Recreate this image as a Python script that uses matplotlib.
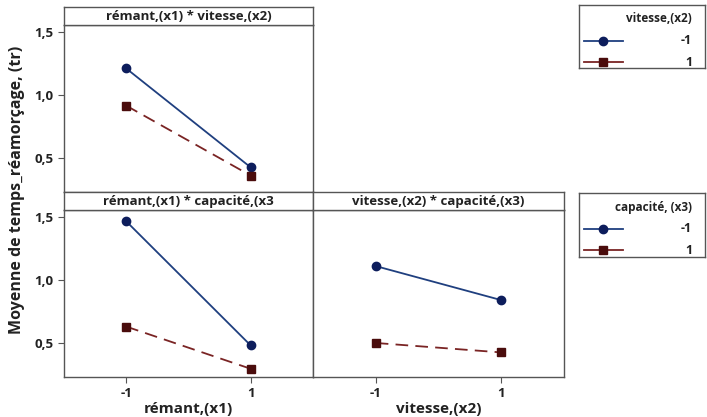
import matplotlib
matplotlib.use('Agg')
import matplotlib.pyplot as plt

plt.rcParams['font.family'] = ['Open Sans', 'DejaVu Sans']

# levels on the x axis
levels = [-1, 1]
level_labels = ['-1', '1']

# rémant (x1) * vitesse (x2)
x1x2_v_minus = [1.21, 0.425]
x1x2_v_plus = [0.915, 0.36]

# rémant (x1) * capacité (x3)
x1x3_c_minus = [1.465, 0.48]
x1x3_c_plus = [0.63, 0.295]

# vitesse (x2) * capacité (x3)
x2x3_c_minus = [1.11, 0.84]
x2x3_c_plus = [0.50, 0.425]

y_ticks = [0.5, 1.0, 1.5]
y_tick_labels = ['0,5', '1,0', '1,5']

BLUE = '#1f3f7f'
BLUE_M = '#0d1d5c'
RED = '#7a2424'
RED_M = '#4a0c0c'
FRAME = '#555555'
TXT = '#222222'

W, H = 707, 417
fig = plt.figure(figsize=(W / 100, H / 100), dpi=100)


def px_axes(x0, y0, x1, y1):
    return fig.add_axes([x0 / W, 1 - y1 / H, (x1 - x0) / W, (y1 - y0) / H])


def frame(ax):
    for s in ax.spines.values():
        s.set_color(FRAME)
        s.set_linewidth(1.0)


def panel(x0, x1, y_top, y_strip, y_bot, title, a, b, show_y, show_x):
    ax = px_axes(x0, y_strip, x1, y_bot)
    ax.plot(levels, a, '-', color=BLUE, lw=1.3, marker='o', ms=6,
            mfc=BLUE_M, mec=BLUE_M)
    ax.plot(levels, b, '--', color=RED, lw=1.3, dashes=(7, 4), marker='s', ms=5.5,
            mfc=RED_M, mec=RED_M)
    ax.set_xlim(-2, 2)
    ax.set_ylim(0.23, 1.555)
    frame(ax)
    ax.set_yticks(y_ticks)
    ax.set_xticks(levels)
    if show_y:
        ax.set_yticklabels(y_tick_labels, fontsize=9.5, fontweight='bold')
    else:
        ax.tick_params(axis='y', left=False, labelleft=False)
    if show_x:
        ax.set_xticklabels(level_labels, fontsize=9.5, fontweight='bold')
    else:
        ax.tick_params(axis='x', bottom=False, labelbottom=False)
    ax.tick_params(colors=FRAME, labelcolor=TXT, length=4)

    st = px_axes(x0, y_top, x1, y_strip)
    st.set_xticks([])
    st.set_yticks([])
    frame(st)
    st.text(0.5, 0.45, title, ha='center', va='center', fontsize=9.5,
            fontweight='bold', color=TXT, transform=st.transAxes)
    return ax


panel(64, 313, 7, 25, 192, 'rémant,(x1) * vitesse,(x2)',
      x1x2_v_minus, x1x2_v_plus, True, False)
ax_bl = panel(64, 313, 192, 210, 377, 'rémant,(x1) * capacité,(x3',
              x1x3_c_minus, x1x3_c_plus, True, True)
ax_br = panel(313, 564, 192, 210, 377, 'vitesse,(x2) * capacité,(x3)',
              x2x3_c_minus, x2x3_c_plus, False, True)

ax_bl.set_xlabel('rémant,(x1)', fontsize=11, fontweight='bold', labelpad=1, color=TXT)
ax_br.set_xlabel('vitesse,(x2)', fontsize=11, fontweight='bold', labelpad=1, color=TXT)

fig.text(17 / W, 1 - 190 / H, 'Moyenne de temps_réamorçage, (tr)', rotation=90,
         ha='center', va='center', fontsize=11.5, fontweight='bold', color=TXT)


def legend_box(y0, y1, title):
    lg = px_axes(579, y0, 705, y1)
    lg.set_xlim(0, 126)
    lg.set_ylim(y1 - y0, 0)
    lg.set_xticks([])
    lg.set_yticks([])
    frame(lg)
    lg.text(113, 14, title, ha='right', va='center', fontsize=8.5,
            fontweight='bold', color=TXT)
    lg.plot([5, 44], [36, 36], color=BLUE, lw=1.3)
    lg.plot([24], [36], 'o', ms=6, color=BLUE_M)
    lg.plot([5, 44], [57, 57], color=RED, lw=1.3)
    lg.plot([24], [57], 's', ms=5.5, color=RED_M)
    lg.text(113, 36, '-1', ha='right', va='center', fontsize=9,
            fontweight='bold', color=TXT)
    lg.text(113, 57, '1', ha='right', va='center', fontsize=9,
            fontweight='bold', color=TXT)


legend_box(5, 68, 'vitesse,(x2)')
legend_box(193, 257, 'capacité, (x3)')

fig.savefig('out.png', dpi=100)
